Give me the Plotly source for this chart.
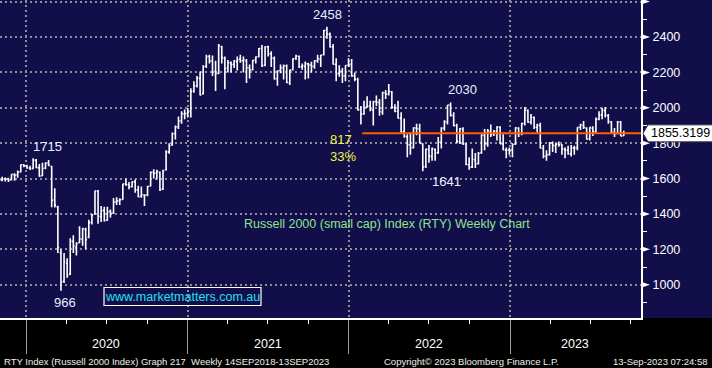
import plotly.graph_objects as go
import pandas as pd

# ---------------- data (weekly OHLC, Russell 2000) ----------------
first_week = "2019-11-01"

open_2019 = [1562, 1592, 1597, 1598, 1592, 1622, 1620, 1638, 1678]
high_2019 = [1595, 1610, 1606, 1605, 1625, 1630, 1645, 1679, 1681]
low_2019 = [1555, 1585, 1583, 1580, 1590, 1588, 1605, 1635, 1664]
close_2019 = [1590, 1598, 1597, 1590, 1624, 1619, 1636, 1678, 1672]

open_2020 = [1672, 1660, 1656, 1703, 1661, 1616, 1660, 1688, 1668, 1480, 1440, 1180, 1020,
             1120, 1060, 1245, 1210, 1238, 1258, 1312, 1268, 1352, 1400, 1530, 1385, 1420,
             1365, 1413, 1405, 1468, 1475, 1482, 1570, 1565, 1555, 1582, 1535, 1500, 1505,
             1508, 1558, 1636, 1630, 1635, 1540, 1650, 1750, 1790, 1855, 1893, 1925, 1965]
high_2020 = [1678, 1672, 1715, 1710, 1682, 1690, 1692, 1705, 1672, 1545, 1446, 1200, 1180,
             1150, 1262, 1280, 1240, 1330, 1320, 1322, 1367, 1400, 1532, 1536, 1445, 1440,
             1440, 1425, 1490, 1495, 1488, 1570, 1600, 1580, 1585, 1595, 1560, 1555, 1512,
             1560, 1640, 1652, 1650, 1640, 1650, 1760, 1800, 1860, 1900, 1950, 1980, 1990]
low_2020 = [1655, 1648, 1654, 1660, 1610, 1614, 1652, 1670, 1438, 1437, 1180, 966, 1010,
            1040, 1055, 1180, 1165, 1236, 1220, 1200, 1262, 1340, 1395, 1345, 1355, 1358,
            1362, 1380, 1400, 1450, 1450, 1480, 1560, 1540, 1550, 1520, 1495, 1492, 1445,
            1500, 1555, 1600, 1595, 1530, 1535, 1645, 1740, 1785, 1820, 1880, 1910, 1935]
close_2020 = [1660, 1656, 1704, 1662, 1614, 1657, 1687, 1678, 1476, 1450, 1210, 1014, 1131,
              1052, 1246, 1218, 1233, 1260, 1317, 1255, 1351, 1394, 1529, 1387, 1418, 1362,
              1412, 1403, 1467, 1474, 1480, 1569, 1565, 1553, 1581, 1536, 1498, 1510, 1506,
              1555, 1636, 1631, 1640, 1538, 1644, 1751, 1786, 1853, 1892, 1926, 1968, 1967]

open_2021 = [1968, 1980, 2095, 2125, 2165, 2080, 2235, 2290, 2265, 2205, 2195, 2345, 2280,
             2225, 2255, 2245, 2262, 2275, 2266, 2265, 2225, 2215, 2270, 2288, 2335, 2240,
             2345, 2305, 2280, 2165, 2210, 2225, 2236, 2140, 2215, 2280, 2290, 2232, 2235,
             2248, 2240, 2235, 2265, 2275, 2300, 2440, 2415, 2345, 2245, 2195, 2205, 2180, 2240]
high_2021 = [1998, 2110, 2150, 2180, 2205, 2240, 2300, 2300, 2295, 2265, 2360, 2350, 2290,
             2270, 2262, 2270, 2290, 2300, 2290, 2275, 2245, 2270, 2290, 2338, 2355, 2348,
             2350, 2320, 2290, 2210, 2245, 2245, 2245, 2215, 2280, 2300, 2295, 2250, 2262,
             2255, 2260, 2270, 2300, 2300, 2440, 2458, 2425, 2360, 2280, 2240, 2225, 2240, 2280]
low_2021 = [1945, 1945, 2085, 2115, 2070, 2075, 2225, 2250, 2180, 2095, 2190, 2250, 2105,
            2200, 2200, 2225, 2210, 2255, 2200, 2140, 2165, 2210, 2250, 2285, 2230, 2235,
            2290, 2230, 2160, 2125, 2195, 2160, 2140, 2128, 2210, 2270, 2225, 2215, 2160,
            2165, 2200, 2220, 2255, 2230, 2295, 2390, 2340, 2245, 2150, 2175, 2140, 2150, 2230]
close_2021 = [1975, 2092, 2123, 2167, 2073, 2233, 2289, 2266, 2201, 2192, 2352, 2285, 2221,
              2254, 2243, 2264, 2271, 2266, 2271, 2226, 2213, 2268, 2287, 2335, 2238, 2345,
              2305, 2280, 2163, 2209, 2226, 2236, 2143, 2213, 2277, 2292, 2232, 2237, 2248,
              2241, 2233, 2265, 2277, 2297, 2437, 2417, 2343, 2246, 2193, 2208, 2181, 2239, 2245]

open_2022 = [2245, 2180, 2160, 1990, 1965, 2005, 2010, 1988, 2035, 2030, 1975, 2085, 2078,
             2090, 2000, 1980, 1940, 1865, 1835, 1790, 1775, 1885, 1880, 1795, 1668, 1765,
             1725, 1765, 1745, 1805, 1885, 1920, 2015, 1955, 1900, 1808, 1880, 1795, 1678,
             1665, 1705, 1685, 1745, 1845, 1795, 1865, 1850, 1865, 1890, 1795, 1760, 1760]
high_2022 = [2275, 2200, 2170, 2010, 2040, 2065, 2040, 2040, 2070, 2050, 2090, 2100, 2135,
             2095, 2020, 2040, 1975, 1940, 1850, 1860, 1890, 1910, 1910, 1800, 1770, 1790,
             1775, 1770, 1835, 1890, 1930, 2016, 2030, 1975, 1910, 1885, 1890, 1800, 1720,
             1770, 1745, 1750, 1850, 1880, 1880, 1905, 1875, 1895, 1895, 1850, 1775, 1775]
low_2022 = [2175, 2150, 1985, 1905, 1960, 2000, 1980, 1900, 2010, 1955, 1960, 2050, 2070,
            1995, 1975, 1940, 1860, 1830, 1720, 1735, 1770, 1845, 1800, 1641, 1660, 1690,
            1700, 1700, 1740, 1770, 1870, 1905, 1950, 1895, 1800, 1795, 1790, 1675, 1650,
            1660, 1660, 1680, 1740, 1760, 1780, 1835, 1840, 1815, 1795, 1760, 1715, 1735]
close_2022 = [2180, 2162, 1988, 1964, 2003, 2009, 1990, 2034, 2031, 1979, 2086, 2077, 2092,
              2003, 1980, 1941, 1864, 1839, 1792, 1773, 1887, 1883, 1800, 1665, 1765, 1728,
              1769, 1744, 1806, 1885, 1921, 2016, 1957, 1899, 1810, 1882, 1798, 1679, 1664,
              1709, 1682, 1742, 1846, 1797, 1869, 1849, 1869, 1892, 1796, 1763, 1761, 1761]

open_2023 = [1762, 1795, 1885, 1855, 1912, 1985, 1920, 1945, 1890, 1900, 1770, 1728, 1735,
             1800, 1785, 1795, 1790, 1765, 1760, 1740, 1772, 1775, 1890, 1900, 1885, 1825,
             1885, 1865, 1935, 1960, 1985, 1955, 1920, 1860, 1855, 1920, 1842]
high_2023 = [1800, 1890, 1890, 1915, 2005, 1990, 1965, 1950, 1910, 1915, 1790, 1760, 1805,
             1810, 1800, 1810, 1795, 1775, 1785, 1790, 1785, 1890, 1910, 1925, 1890, 1890,
             1895, 1945, 1980, 2000, 2005, 1965, 1925, 1885, 1925, 1925, 1870]
low_2023 = [1720, 1790, 1835, 1845, 1900, 1915, 1905, 1880, 1860, 1770, 1715, 1700, 1730,
            1750, 1745, 1780, 1735, 1715, 1735, 1725, 1735, 1760, 1875, 1880, 1820, 1815,
            1840, 1860, 1930, 1935, 1945, 1910, 1855, 1835, 1850, 1840, 1840]
close_2023 = [1792, 1887, 1853, 1911, 1986, 1919, 1946, 1890, 1902, 1773, 1725, 1734, 1802,
              1788, 1793, 1791, 1768, 1760, 1740, 1774, 1773, 1889, 1904, 1890, 1822, 1889,
              1865, 1936, 1960, 1985, 1958, 1922, 1860, 1853, 1920, 1840, 1855]

last_price = 1855.3199
y_ticks = [1000, 1200, 1400, 1600, 1800, 2000, 2200, 2400, 2600]
y_tick_text = ["1000", "1200", "1400", "1600", "1800", "2000", "2200", "2400", ""]
year_starts = ["2020-01-01", "2021-01-01", "2022-01-01", "2023-01-01"]
quarter_ticks = ["2019-10-01", "2020-04-01", "2020-07-01", "2020-10-01", "2021-04-01",
                 "2021-07-01", "2021-10-01", "2022-04-01", "2022-07-01", "2022-10-01",
                 "2023-04-01", "2023-07-01", "2023-10-01"]
year_labels = ["2020", "2021", "2022", "2023"]
year_label_dates = ["2020-07-01", "2021-07-02", "2022-07-02", "2023-05-28"]

open_ = open_2019 + open_2020 + open_2021 + open_2022 + open_2023
high = high_2019 + high_2020 + high_2021 + high_2022 + high_2023
low = low_2019 + low_2020 + low_2021 + low_2022 + low_2023
close = close_2019 + close_2020 + close_2021 + close_2022 + close_2023
weeks = pd.date_range(first_week, periods=len(close), freq="W-FRI")

# ---------------- styling ----------------
NAVY = "#110e4a"
GRID = "#8e8e98"
FONT = "Liberation Sans"
X_RANGE = ["2019-11-03", "2023-10-24"]
Y_RANGE = [812, 2609]


def px(x):
    return x / 641.0


def py(y):
    return (318.0 - y) / 318.0


fig = go.Figure()
fig.add_trace(go.Ohlc(
    x=weeks, open=open_, high=high, low=low, close=close,
    increasing=dict(line=dict(color="white", width=1.6)),
    decreasing=dict(line=dict(color="white", width=1.6)),
    tickwidth=0.4, hoverinfo="skip",
))

shapes = []
# navy area behind right-hand axis labels
shapes.append(dict(type="rect", xref="paper", yref="paper", x0=1, x1=712 / 641.0, y0=0, y1=1,
                   fillcolor=NAVY, line=dict(width=0), layer="below"))
# orange last-price line
shapes.append(dict(type="line", xref="x", yref="y", x0="2022-01-31", x1=X_RANGE[1],
                   y0=last_price, y1=last_price, line=dict(color="#ff6000", width=2)))
# triangles on y ticks
for v in y_ticks:
    shapes.append(dict(type="path", xref="paper", yref="y", xsizemode="pixel", ysizemode="pixel",
                       xanchor=1, yanchor=v, path="M 0,-3 L 9,0 L 0,3 Z",
                       fillcolor="white", line=dict(width=0)))
# price box with pointer
shapes.append(dict(type="path", xref="paper", yref="y", xsizemode="pixel", ysizemode="pixel",
                   xanchor=1, yanchor=last_price,
                   path="M 2,0 L 7,-8.5 L 72,-8.5 L 72,8.5 L 7,8.5 Z",
                   fillcolor="white", line=dict(color="#333333", width=1)))
# website box
shapes.append(dict(type="rect", xref="paper", yref="paper", x0=px(104), x1=px(261),
                   y0=py(305.5), y1=py(287.5), line=dict(color="white", width=1.2)))

annotations = []


def txt(text, x, y, color, size=12.5, xanchor="center", **kw):
    annotations.append(dict(text=text, x=px(x), y=py(y), xref="paper", yref="paper",
                            xanchor=xanchor, yanchor="middle", showarrow=False,
                            font=dict(family=FONT, size=size, color=color), **kw))


LABEL = "#e8eeff"
txt("1715", 47, 146, LABEL, 13)
txt("966", 64.5, 302, LABEL, 13)
txt("2458", 327, 15, LABEL, 13)
txt("2030", 462, 89, LABEL, 13)
txt("1641", 447, 181, LABEL, 13)
txt("817", 328, 139, "#f4f43a", 13, xanchor="left")
txt("33%", 328, 156, "#f4f43a", 13, xanchor="left")
txt("Russell 2000 (small cap) Index (RTY) Weekly Chart", 387, 223.5, "#8fe48f", 12.5)
txt("www.marketmatters.com.au", 182.5, 296.5, "#22e0f0", 12.5)

FOOT = "#f0efe4"
txt("RTY Index (Russell 2000 Index) Graph 217  Weekly 14SEP2018-13SEP2023", 2, 361, FOOT, 9.5,
    xanchor="left")
txt("Copyright\u00a9 2023 Bloomberg Finance L.P.", 382, 361, FOOT, 9.5, xanchor="left")
txt("13-Sep-2023 07:24:58", 710, 361, FOOT, 9.5, xanchor="right")

for lab, d in zip(year_labels, year_label_dates):
    annotations.append(dict(text=lab, x=d, y=py(344), xref="x", yref="paper",
                            xanchor="center", yanchor="middle", showarrow=False,
                            font=dict(family=FONT, size=12.5, color="white")))

annotations.append(dict(text="1855.3199", x=1, y=last_price, xref="paper", yref="y",
                        xanchor="left", yanchor="middle", xshift=8, showarrow=False,
                        font=dict(family=FONT, size=12.5, color="black")))

fig.update_layout(
    width=712, height=368,
    margin=dict(l=0, r=71, t=0, b=50, pad=0),
    paper_bgcolor="black", plot_bgcolor=NAVY,
    showlegend=False,
    font=dict(family=FONT, color="white", size=12),
    shapes=shapes, annotations=annotations,
    xaxis=dict(type="date", range=X_RANGE, rangeslider=dict(visible=False),
               showline=True, linecolor="white", linewidth=2, zeroline=False,
               tickmode="array", tickvals=year_starts, showticklabels=False,
               ticks="outside", ticklen=34, tickcolor="#a0a0a0", tickwidth=1,
               showgrid=True, gridcolor=GRID, gridwidth=2, griddash="2px,3px",
               minor=dict(tickvals=quarter_ticks, ticks="outside", ticklen=4,
                          tickcolor="white", tickwidth=1, showgrid=False)),
    yaxis=dict(side="right", range=Y_RANGE, tickmode="array", tickvals=y_ticks,
               ticktext=y_tick_text, showline=True, linecolor="white", linewidth=2,
               zeroline=False, ticks="outside", ticklen=4, tickcolor="white",
               ticklabelstandoff=3,
               tickfont=dict(family=FONT, size=12.5, color="white"),
               showgrid=True, gridcolor=GRID, gridwidth=2, griddash="2px,3px",
               minor=dict(dtick=100, tick0=0, ticks="outside", ticklen=4,
                          tickcolor="white", tickwidth=1, showgrid=False)),
)

fig.write_html("out.html", config={"displayModeBar": False},
               post_script="document.body.style.margin='0';document.body.style.overflow='hidden';")
